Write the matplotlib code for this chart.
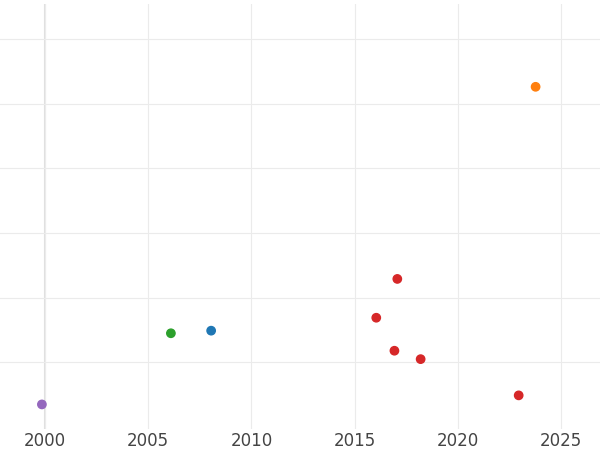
import matplotlib
matplotlib.use("Agg")
import matplotlib.pyplot as plt

years = [1999.85, 2006.1, 2008.05, 2016.05, 2017.07, 2016.93, 2018.2, 2022.95, 2023.77]
values = [0.35, 1.45, 1.49, 1.69, 2.29, 1.18, 1.05, 0.49, 5.26]
colors = ["#9467bd", "#2ca02c", "#1f77b4", "#d62728", "#d62728", "#d62728", "#d62728", "#d62728", "#ff7f0e"]
xticks = [2000, 2005, 2010, 2015, 2020, 2025]

fig = plt.figure(figsize=(6, 4.5), dpi=100)
ax = fig.add_axes([0, 21/450, 1, 425/450])
ax.scatter(years, values, c=colors, s=36, zorder=3)
ax.set_xlim(1997.82, 2026.89)
ax.set_ylim(-0.03, 6.54)
ax.set_xticks(xticks)
ax.set_xticklabels([str(t) for t in xticks])
ax.set_yticks([1, 2, 3, 4, 5, 6])
ax.set_yticklabels([])
ax.grid(True, color="#ebebeb", linewidth=0.8)
ax.axvline(2000, color="#e0e0e0", linewidth=1.5, zorder=1)
ax.tick_params(length=0, labelsize=12, colors="#444444", pad=2)
for s in ax.spines.values():
    s.set_visible(False)
fig.savefig("out.png")
